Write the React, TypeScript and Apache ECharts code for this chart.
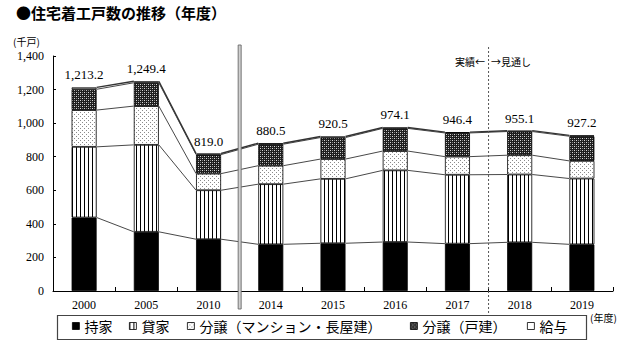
import React, { useEffect, useRef } from "react";
import * as echarts from "echarts";

const years = ["2000", "2005", "2010", "2014", "2015", "2016", "2017", "2018", "2019"];
const mochiie = [437.8, 352.6, 308.5, 278.2, 284.4, 291.8, 282.1, 290.0, 278.0];
const kashiya = [421.0, 518.0, 291.8, 358.3, 383.7, 426.9, 410.4, 404.0, 392.0];
const bunjoMansion = [219.0, 231.0, 99.0, 110.0, 118.0, 115.0, 108.0, 115.0, 105.0];
const bunjoKodate = [124.0, 139.0, 113.5, 128.0, 128.0, 135.0, 141.0, 141.0, 147.0];
const kyuyo = [11.2, 8.8, 6.2, 6.0, 6.4, 5.4, 4.9, 5.1, 5.2];
const totals = [1213.2, 1249.4, 819.0, 880.5, 920.5, 974.1, 946.4, 955.1, 927.2];
const seriesNames = ["持家", "貸家", "分譲（マンション・長屋建）", "分譲（戸建）", "給与"];
const yTicks = { min: 0, max: 1400, interval: 200 };

const SERIF = "'Liberation Serif', 'Times New Roman', serif";
const JP = "'Noto Sans CJK JP', sans-serif";
const BAR_W = 25;

function makeTile(size: number, draw: (ctx: CanvasRenderingContext2D) => void) {
  const c = document.createElement("canvas");
  c.width = size;
  c.height = size;
  const ctx = c.getContext("2d")!;
  draw(ctx);
  return { image: c, repeat: "repeat", imageWidth: size, imageHeight: size } as any;
}

export default function App() {
  const ref = useRef<HTMLDivElement>(null);
  useEffect(() => {
    if (!ref.current) return;
    const chart = echarts.init(ref.current, null, { renderer: "svg" });

    const stripes = makeTile(4, (ctx) => {
      ctx.fillStyle = "#fff";
      ctx.fillRect(0, 0, 4, 4);
      ctx.fillStyle = "#000";
      ctx.fillRect(0, 0, 1, 4);
    });
    const dots = makeTile(4, (ctx) => {
      ctx.fillStyle = "#fff";
      ctx.fillRect(0, 0, 4, 4);
      ctx.fillStyle = "#8a8a8a";
      ctx.fillRect(0, 0, 1, 1);
      ctx.fillRect(2, 2, 1, 1);
    });
    const hatch = makeTile(4, (ctx) => {
      ctx.fillStyle = "#1e1e1e";
      ctx.fillRect(0, 0, 4, 4);
      ctx.fillStyle = "#d8d8d8";
      ctx.fillRect(0, 0, 1, 1);
      ctx.fillRect(2, 2, 1, 1);
      ctx.fillStyle = "#808080";
      ctx.fillRect(2, 0, 1, 1);
      ctx.fillRect(0, 2, 1, 1);
    });

    const fills = ["#000", stripes, dots, hatch, "#fff"];
    const dataSets = [mochiie, kashiya, bunjoMansion, bunjoKodate, kyuyo];

    const cum = years.map((_, i) => {
      let s = 0;
      return dataSets.map((d) => (s += d[i]));
    });

    const fmtTotal = (v: number) =>
      v.toLocaleString("en-US", { minimumFractionDigits: 1, maximumFractionDigits: 1 });

    const barSeries = dataSets.map((d, k) => ({
      name: seriesNames[k],
      type: "bar",
      stack: "total",
      barWidth: BAR_W,
      data: d,
      itemStyle: { color: fills[k], borderColor: "#000", borderWidth: 0.8 },
      label:
        k === 4
          ? {
              show: true,
              position: "top",
              distance: 6,
              fontFamily: SERIF,
              fontSize: 13,
              color: "#000",
              formatter: (p: any) => fmtTotal(totals[p.dataIndex]),
            }
          : { show: false },
      emphasis: { disabled: true },
    }));

    const connectorSeries = {
      type: "custom",
      silent: true,
      z: 5,
      data: years.map((_, i) => [i, 0]),
      renderItem: (params: any, api: any) => {
        const i = params.dataIndex;
        const children: any[] = [];
        if (i < years.length - 1) {
          for (let k = 0; k < 5; k++) {
            const p1 = api.coord([i, cum[i][k]]);
            const p2 = api.coord([i + 1, cum[i + 1][k]]);
            children.push({
              type: "line",
              shape: { x1: p1[0] + BAR_W / 2, y1: p1[1], x2: p2[0] - BAR_W / 2, y2: p2[1] },
              style: { stroke: "#333", lineWidth: k === 4 ? 1.4 : 0.9 },
            });
          }
        }
        if (i === 2 || i === 6) {
          const a = api.coord([i, 0]);
          const b = api.coord([i + 1, 0]);
          const top = api.coord([i, 1400])[1];
          const mx = (a[0] + b[0]) / 2;
          if (i === 2) {
            children.push({
              type: "rect",
              shape: { x: mx - 1.5, y: top - 11, width: 3, height: a[1] - top + 29 },
              style: { fill: "#d0d0d0", stroke: "#6a6a6a", lineWidth: 0.9 },
            });
          } else {
            children.push({
              type: "line",
              shape: { x1: mx, y1: top - 9, x2: mx, y2: a[1] + 22 },
              style: { stroke: "#555", lineWidth: 1, lineDash: [2, 2] },
            });
          }
        }
        return { type: "group", children };
      },
    };

    const legendLefts = [72, 129, 187, 410, 527];
    const legends = seriesNames.map((n, k) => ({
      data: [n],
      left: legendLefts[k],
      top: 318,
      padding: 0,
      itemWidth: 7,
      itemHeight: 7,
      icon: "rect",
      itemStyle: { borderColor: "#000", borderWidth: 0.8 },
      textStyle: { fontFamily: JP, fontSize: 14, color: "#000", lineHeight: 16 },
      selectedMode: false,
    }));

    chart.setOption({
      animation: false,
      backgroundColor: "#fff",
      grid: { left: 53, right: 27, top: 56, bottom: 69 },
      legend: legends,
      xAxis: {
        type: "category",
        data: years,
        axisLine: { lineStyle: { color: "#000", width: 1 } },
        axisTick: { show: true, inside: true, length: 4, lineStyle: { color: "#000" } },
        axisLabel: { fontFamily: SERIF, fontSize: 12, color: "#000", margin: 8 },
      },
      yAxis: {
        type: "value",
        min: yTicks.min,
        max: yTicks.max,
        interval: yTicks.interval,
        splitLine: { show: false },
        axisLine: { show: true, lineStyle: { color: "#000", width: 1 } },
        axisTick: { show: true, inside: true, length: 3, lineStyle: { color: "#000" } },
        axisLabel: {
          fontFamily: SERIF,
          fontSize: 12,
          color: "#000",
          margin: 9,
          formatter: (v: number) => v.toLocaleString("en-US"),
        },
      },
      graphic: [
        {
          type: "text",
          left: 16,
          top: 5,
          style: { text: "●住宅着工戸数の推移（年度）", font: `bold 15px ${JP}`, fill: "#000" },
        },
        {
          type: "text",
          left: 13,
          top: 36,
          style: { text: "(千戸)", font: `10px ${JP}`, fill: "#000" },
        },
        {
          type: "text",
          left: 590,
          top: 312,
          style: { text: "(年度)", font: `10px ${JP}`, fill: "#000" },
        },
        {
          type: "text",
          right: 640 - 485,
          top: 56,
          style: { text: "実績←", font: `10px ${JP}`, fill: "#000" },
        },
        {
          type: "text",
          left: 491,
          top: 56,
          style: { text: "→見通し", font: `10px ${JP}`, fill: "#000" },
        },
        {
          type: "rect",
          left: 55,
          top: 313,
          shape: { width: 529, height: 24 },
          style: { fill: "none", stroke: "#444", lineWidth: 1.2 },
          z: -1,
        },
      ],
      series: [...barSeries, connectorSeries],
    });
    return () => chart.dispose();
  }, []);
  return (
    <div
      ref={ref}
      style={{ position: "fixed", left: 0, top: 0, width: 640, height: 360, background: "#fff" }}
    />
  );
}
